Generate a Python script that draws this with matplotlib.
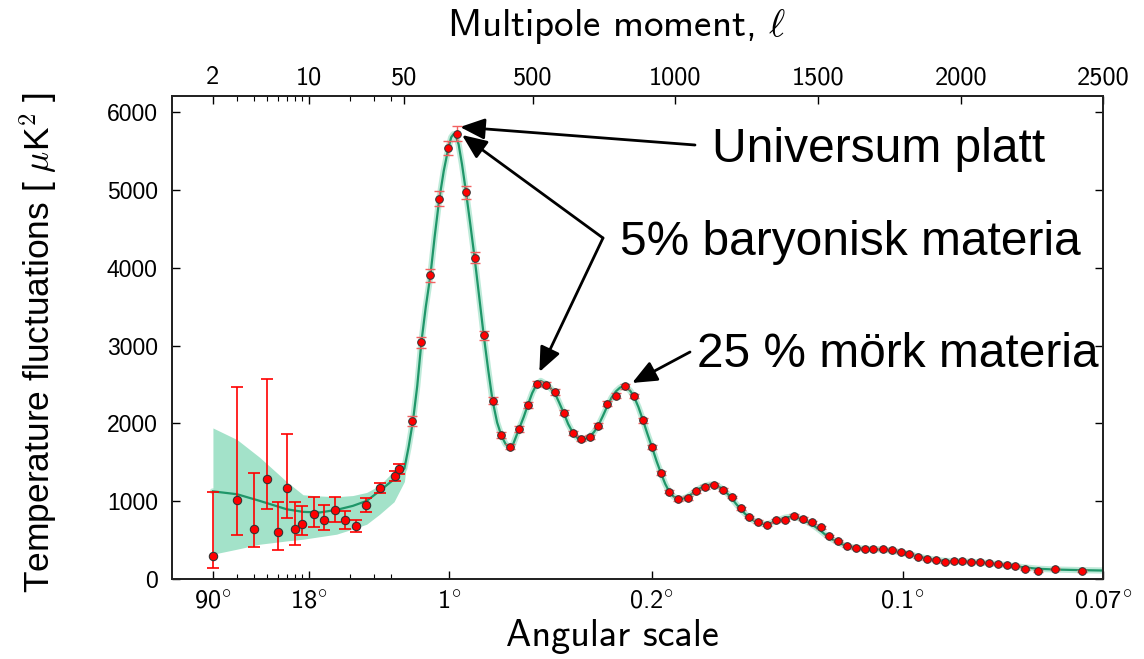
import numpy as np
import matplotlib
matplotlib.use("Agg")
import matplotlib.pyplot as plt
from matplotlib.ticker import FixedLocator, NullFormatter

plt.rcParams["mathtext.fontset"] = "cm"

# ---------------- data ----------------
# low multipoles (log part of the axis): value and error-bar ends
ell_low = [2, 3, 4, 5, 6, 7, 8, 9, 11, 13, 15.5, 18.5, 22, 26, 33, 43, 45.5]
dl_low = [296, 1008, 643, 1283, 596, 1162, 639, 708, 832, 755, 888, 751, 678, 948, 1162, 1317, 1412]
dl_low_min = [138, 566, 403, 897, 373, 781, 434, 566, 660, 630, 730, 644, 596, 858, 1103, 1255, 1350]
dl_low_max = [1111, 2462, 1360, 2574, 991, 1866, 982, 931, 1051, 952, 1047, 866, 759, 1038, 1231, 1380, 1475]

# binned high multipoles
ell_high = [78, 109, 141, 172, 204, 235, 266, 296, 328, 359, 390, 421, 453, 483, 514,
            545, 577, 608, 640, 669, 699, 730, 761, 792, 823, 855, 886, 918, 949, 978,
            1010, 1043, 1073, 1105, 1135, 1167, 1198, 1229, 1259, 1290, 1322, 1352, 1384,
            1415, 1446, 1477, 1509, 1539, 1571, 1602, 1634, 1664, 1693, 1726, 1758, 1789,
            1819, 1851, 1880, 1913, 1945, 1975, 2005, 2037, 2068, 2100, 2130, 2161, 2191,
            2225, 2269, 2330, 2424]
dl_high = [2024, 3041, 3903, 4887, 5543, 5727, 4972, 4131, 3131, 2291, 1850, 1701, 1931,
           2241, 2512, 2497, 2405, 2136, 1875, 1802, 1824, 1969, 2252, 2355, 2475, 2351,
           2037, 1690, 1360, 1120, 1026, 1039, 1124, 1180, 1210, 1145, 1051, 905, 794, 734,
           695, 750, 759, 811, 772, 725, 660, 553, 480, 425, 390, 382, 382, 382, 364, 343,
           322, 279, 254, 236, 219, 228, 232, 215, 215, 202, 193, 180, 158, 129, 103, 125, 103]
err_high = [65, 69, 86, 96, 92, 100, 80, 69, 54, 45, 40, 38, 38, 38, 38, 36, 35, 33, 32,
            30, 30, 30, 30, 30, 28, 28, 27, 25, 24, 22, 20, 20, 20, 20, 20, 20, 18, 18, 18,
            17, 17, 17, 16, 16, 16, 15, 15, 15, 14, 14, 14, 14, 13, 13, 13, 13, 12, 12, 12,
            12, 12, 12, 12, 12, 12, 12, 12, 12, 12, 12, 12, 12, 12]

# best-fit model curve
ell_model = [2, 3, 4.4, 6.9, 9.1, 12, 16, 21, 26.5, 33, 42, 50, 65, 80, 95, 110, 125, 141,
             156, 172, 188, 204, 214, 222, 230, 240, 252, 266, 281, 296, 312, 328, 344, 359,
             375, 390, 405, 418, 430, 452, 468, 483, 498, 513, 528, 545, 560, 577, 592, 608,
             624, 640, 655, 670, 685, 700, 715, 730, 745, 761, 776, 791, 806, 818, 830, 842,
             855, 870, 886, 902, 918, 934, 949, 964, 978, 994, 1010, 1026, 1043, 1058, 1073,
             1089, 1104, 1120, 1135, 1150, 1166, 1182, 1198, 1213, 1228, 1244, 1259, 1275,
             1290, 1306, 1322, 1337, 1352, 1368, 1384, 1400, 1415, 1431, 1446, 1462, 1477,
             1493, 1509, 1524, 1539, 1555, 1571, 1586, 1602, 1618, 1634, 1664, 1693, 1726,
             1758, 1789, 1819, 1851, 1880, 1913, 1944, 1975, 2005, 2037, 2068, 2100, 2130,
             2161, 2191, 2225, 2269, 2330, 2423, 2500]
dl_model = [1124, 1087, 1001, 894, 860, 852, 886, 937, 1001, 1130, 1280, 1420, 1700, 2030,
            2480, 3060, 3500, 3900, 4400, 4880, 5250, 5540, 5680, 5720, 5700, 5590, 5330,
            4972, 4560, 4131, 3630, 3131, 2680, 2291, 2010, 1840, 1730, 1700, 1720, 1931,
            2080, 2241, 2390, 2500, 2545, 2510, 2460, 2390, 2270, 2136, 1990, 1880, 1815,
            1795, 1800, 1830, 1890, 1975, 2090, 2220, 2330, 2410, 2460, 2475, 2460, 2415,
            2340, 2210, 2040, 1860, 1690, 1510, 1360, 1220, 1120, 1055, 1025, 1030, 1055,
            1095, 1135, 1170, 1195, 1210, 1210, 1190, 1150, 1095, 1030, 960, 895, 835, 785,
            745, 720, 705, 705, 720, 740, 765, 785, 795, 795, 780, 760, 730, 700, 660, 615,
            570, 530, 495, 465, 440, 420, 405, 395, 385, 380, 375, 360, 340, 315, 285, 262,
            242, 230, 225, 222, 217, 210, 200, 188, 175, 160, 145, 128, 118, 110, 105]

# cosmic-variance band at low multipoles
ell_band = [2, 3, 4.4, 6.9, 9.1, 12, 16, 21, 26.5, 33, 42, 50, 58, 66]
band_min = [315, 380, 444, 486, 508, 540, 573, 640, 701, 830, 990, 1250, 1490, 1680]
band_max = [1940, 1790, 1560, 1250, 1080, 1065, 1055, 1070, 1110, 1200, 1390, 1510, 1640, 1745]

# axis tick values and labels
ell_ticks = [2, 10, 50, 500, 1000, 1500, 2000, 2500]
ell_minor = [3, 4, 5, 6, 7, 8, 9, 20, 30, 40]
angle_tick_ell = [2, 10, 207, 917, 1796, 2500]
angle_labels = ["90", "18", "1", "0.2", "0.1", "0.07"]
y_ticks = [0, 1000, 2000, 3000, 4000, 5000, 6000]

# ---------------- scale: log below l=50, linear above ----------------
L_SPLIT = 50.0
LIN_UNIT = 480.0


def fwd(l):
    l = np.asarray(l, dtype=float)
    lg = np.log10(np.clip(l, 1e-3, None))
    return np.where(l < L_SPLIT, lg, np.log10(L_SPLIT) + (l - L_SPLIT) / LIN_UNIT)


def inv(x):
    x = np.asarray(x, dtype=float)
    xs = np.log10(L_SPLIT)
    return np.where(x < xs, 10 ** np.clip(x, -5, 5), L_SPLIT + (x - xs) * LIN_UNIT)


W, H = 1144, 659
fig = plt.figure(figsize=(W / 100, H / 100), dpi=100)
ax = fig.add_axes([171.7 / W, 1 - 578.7 / H, (1103.5 - 171.7) / W, (578.7 - 96) / H])
ax.set_xscale("function", functions=(fwd, inv))
ax.set_xlim(1, 2500)
ax.set_ylim(0, 6212)

band_col = "#a3e2c9"
line_col = "#1f9669"
red = "#ff0000"
pink = "#f26060"

ax.fill_between(ell_band, band_min, band_max, color=band_col, lw=0, zorder=1)
ax.plot(ell_model, dl_model, color=band_col, lw=4.5, alpha=0.7, zorder=2,
        solid_capstyle="round")
ax.plot(ell_model, dl_model, color=line_col, lw=1.6, zorder=3)

# error bars (no markers, so caps keep the bar colour)
lo = np.array(dl_low)
ax.errorbar(ell_low, dl_low,
            yerr=[lo - np.array(dl_low_min), np.array(dl_low_max) - lo],
            fmt="none", ecolor=red, elinewidth=1.2, capsize=4.5, capthick=1.2,
            zorder=4)
ax.errorbar(ell_high, dl_high, yerr=err_high, fmt="none", ecolor=pink,
            elinewidth=1.0, capsize=3.5, capthick=1.0, zorder=4)
# data points
ax.plot(ell_low, dl_low, "o", ms=6, mfc=red, mec="#333333", mew=0.8, zorder=5)
ax.plot(ell_high, dl_high, "o", ms=5.5, mfc=red, mec="#333333", mew=0.7, zorder=5)

# bottom axis: angular scale
ax.xaxis.set_major_locator(FixedLocator(angle_tick_ell))
ax.xaxis.set_minor_locator(FixedLocator(ell_minor))
ax.xaxis.set_minor_formatter(NullFormatter())
ax.set_xticklabels([s + r"$^{\circ}$" for s in angle_labels],
                   fontfamily="cmss10", fontsize=19)
ax.set_yticks(y_ticks)
ax.set_yticklabels([str(v) for v in y_ticks], fontfamily="Liberation Sans", fontsize=16.5)
ax.tick_params(axis="x", which="both", direction="in", top=False, pad=8)
ax.tick_params(axis="x", which="major", length=6, width=1)
ax.tick_params(axis="x", which="minor", length=3.5, width=0.8)
ax.tick_params(axis="y", which="major", direction="in", left=True, right=True,
               length=6, width=1, pad=10)

# top axis: multipole moment
ax2 = ax.twiny()
ax2.set_xscale("function", functions=(fwd, inv))
ax2.set_xlim(ax.get_xlim())
ax2.xaxis.set_major_locator(FixedLocator(ell_ticks))
ax2.xaxis.set_minor_locator(FixedLocator(ell_minor))
ax2.xaxis.set_minor_formatter(NullFormatter())
ax2.set_xticklabels([str(v) for v in ell_ticks], fontfamily="cmss10", fontsize=19)
ax2.tick_params(axis="x", which="both", direction="in", pad=5)
ax2.tick_params(axis="x", which="major", length=6, width=1)
ax2.tick_params(axis="x", which="minor", length=3.5, width=0.8)

for a in (ax, ax2):
    for s in a.spines.values():
        s.set_color("#222222")
        s.set_linewidth(1.3)

fig.text(617 / W, 1 - 26 / H, r"Multipole moment, $\ell$", fontfamily="cmss10",
         fontsize=28, ha="center", va="center")
fig.text(612 / W, 1 - 636 / H, "Angular scale", fontfamily="cmss10",
         fontsize=27.5, ha="center", va="center")
fig.text(38 / W, 1 - 343 / H, r"Temperature fluctuations [ $\mu$K$^2$ ]",
         fontfamily="Liberation Sans", fontsize=25.5, rotation=90,
         ha="center", va="center")

# annotations
ann_font = dict(fontfamily="Liberation Sans", fontsize=34.5, color="black",
                ha="left", va="baseline")
fig.text(712 / W, 1 - 162 / H, "Universum platt", **ann_font)
fig.text(620 / W, 1 - 255 / H, "5% baryonisk materia", **ann_font)
fig.text(697 / W, 1 - 367 / H, "25 % mörk materia", **ann_font)

arrow = dict(arrowstyle="-|>,head_length=0.75,head_width=0.32", color="black",
             lw=2.0, mutation_scale=20, shrinkA=0, shrinkB=0)
ax.annotate("", xy=(245, 5813), xycoords="data",
            xytext=(695, H - 145), textcoords="figure pixels", arrowprops=arrow)
ax.annotate("", xy=(252, 5710), xycoords="data",
            xytext=(603, H - 238), textcoords="figure pixels", arrowprops=arrow)
ax.annotate("", xy=(523, 2660), xycoords="data",
            xytext=(603, H - 238), textcoords="figure pixels", arrowprops=arrow)
ax.annotate("", xy=(848, 2519), xycoords="data",
            xytext=(690, H - 352), textcoords="figure pixels", arrowprops=arrow)

fig.savefig("out.png", dpi=100)
